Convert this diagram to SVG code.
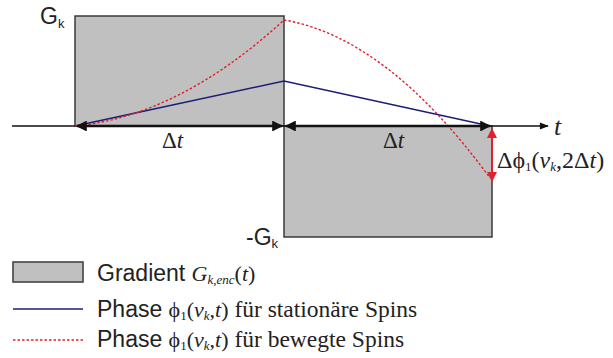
<svg xmlns="http://www.w3.org/2000/svg" width="613" height="358" viewBox="0 0 613 358">
<defs>
<style>
.grad{fill:#c0c0c0;stroke:#3a3a3a;stroke-width:1.5}
.sans{font-family:"Liberation Sans",Arial,sans-serif;fill:#222}
.serif{font-family:"Liberation Serif","Times New Roman",serif;fill:#222}
.blue{fill:none;stroke:#1c1c78;stroke-width:1.6}
.red{fill:none;stroke:#e0202a;stroke-width:1.4;stroke-dasharray:2.5,2}
.dim{stroke:#111;stroke-width:2.6;fill:none}
</style>
<marker id="ah" viewBox="0 0 10 10" refX="9" refY="5" markerWidth="4.6" markerHeight="4.2" orient="auto-start-reverse"><path d="M0,0 L10,5 L0,10 Z" fill="#111"/></marker>
<marker id="ax" viewBox="0 0 10 10" refX="9" refY="5" markerWidth="7" markerHeight="6" orient="auto"><path d="M0,1 L10,5 L0,9 Z" fill="#111"/></marker>
<marker id="rh" viewBox="0 0 10 10" refX="9" refY="5" markerWidth="5.5" markerHeight="5" orient="auto-start-reverse"><path d="M0,0 L10,5 L0,10 Z" fill="#e0202a"/></marker>
</defs>
<g id="gradient-pos"><rect class="grad" x="75" y="16" width="209" height="110"/></g>
<g id="gradient-neg"><rect class="grad" x="284" y="126" width="208" height="111"/></g>
<g id="labels">
<text class="sans" x="40" y="24" font-size="23">G<tspan font-size="13" dy="4">k</tspan></text>
<text class="sans" x="246" y="245" font-size="23">-G<tspan font-size="13" dy="3">k</tspan></text>
<text class="serif" x="162" y="148" font-size="23">Δ<tspan font-style="italic">t</tspan></text>
<text class="serif" x="383" y="148" font-size="23">Δ<tspan font-style="italic">t</tspan></text>
<text class="serif" x="554" y="135" font-size="26" font-style="italic">t</text>
<text class="serif" x="497" y="168" font-size="24">Δϕ<tspan font-size="13" dy="3">1</tspan><tspan dy="-3">(</tspan><tspan font-style="italic">v</tspan><tspan font-size="13" font-style="italic" dy="3">k</tspan><tspan dy="-3">,2Δ</tspan><tspan font-style="italic">t</tspan>)</text>
</g>
<g id="connectors">
<line x1="12" y1="126" x2="548" y2="126" stroke="#111" stroke-width="1.5" marker-end="url(#ax)"/>
<polyline class="blue" points="75,126 284,81 490,126"/>
<path class="red" d="M75,126 Q179.5,116 284,20 Q387,37.5 490,178"/>
<line class="dim" x1="77" y1="126" x2="282" y2="126" marker-start="url(#ah)" marker-end="url(#ah)"/>
<line class="dim" x1="286" y1="126" x2="490" y2="126" marker-start="url(#ah)" marker-end="url(#ah)"/>
<line x1="492" y1="129" x2="492" y2="181" stroke="#e0202a" stroke-width="2" marker-start="url(#rh)" marker-end="url(#rh)"/>
</g>
<g id="legend">
<rect class="grad" x="13" y="262" width="70" height="20"/>
<text class="sans" x="97" y="281" font-size="23">Gradient <tspan class="serif" font-style="italic" font-size="22">G</tspan><tspan class="serif" font-style="italic" font-size="13" dy="3">k,enc</tspan><tspan class="serif" font-size="22" dy="-3">(</tspan><tspan class="serif" font-size="22" font-style="italic">t</tspan><tspan class="serif" font-size="22">)</tspan></text>
<line x1="13" y1="309" x2="83" y2="309" class="blue" stroke-width="2"/>
<text class="sans" x="97" y="317" font-size="23">Phase <tspan class="serif" font-size="22">ϕ</tspan><tspan class="serif" font-size="13" dy="3">1</tspan><tspan class="serif" font-size="22" dy="-3">(</tspan><tspan class="serif" font-size="22" font-style="italic">v</tspan><tspan class="serif" font-style="italic" font-size="13" dy="3">k</tspan><tspan class="serif" font-size="22" dy="-3">,</tspan><tspan class="serif" font-size="22" font-style="italic">t</tspan><tspan class="serif" font-size="22">)</tspan><tspan class="serif" font-size="23.5"> für stationäre Spins</tspan></text>
<line x1="13" y1="340" x2="83" y2="340" class="red" stroke-width="2"/>
<text class="sans" x="97" y="347" font-size="23">Phase <tspan class="serif" font-size="22">ϕ</tspan><tspan class="serif" font-size="13" dy="3">1</tspan><tspan class="serif" font-size="22" dy="-3">(</tspan><tspan class="serif" font-size="22" font-style="italic">v</tspan><tspan class="serif" font-style="italic" font-size="13" dy="3">k</tspan><tspan class="serif" font-size="22" dy="-3">,</tspan><tspan class="serif" font-size="22" font-style="italic">t</tspan><tspan class="serif" font-size="22">)</tspan><tspan class="serif" font-size="23.5"> für bewegte Spins</tspan></text>
</g>
</svg>
